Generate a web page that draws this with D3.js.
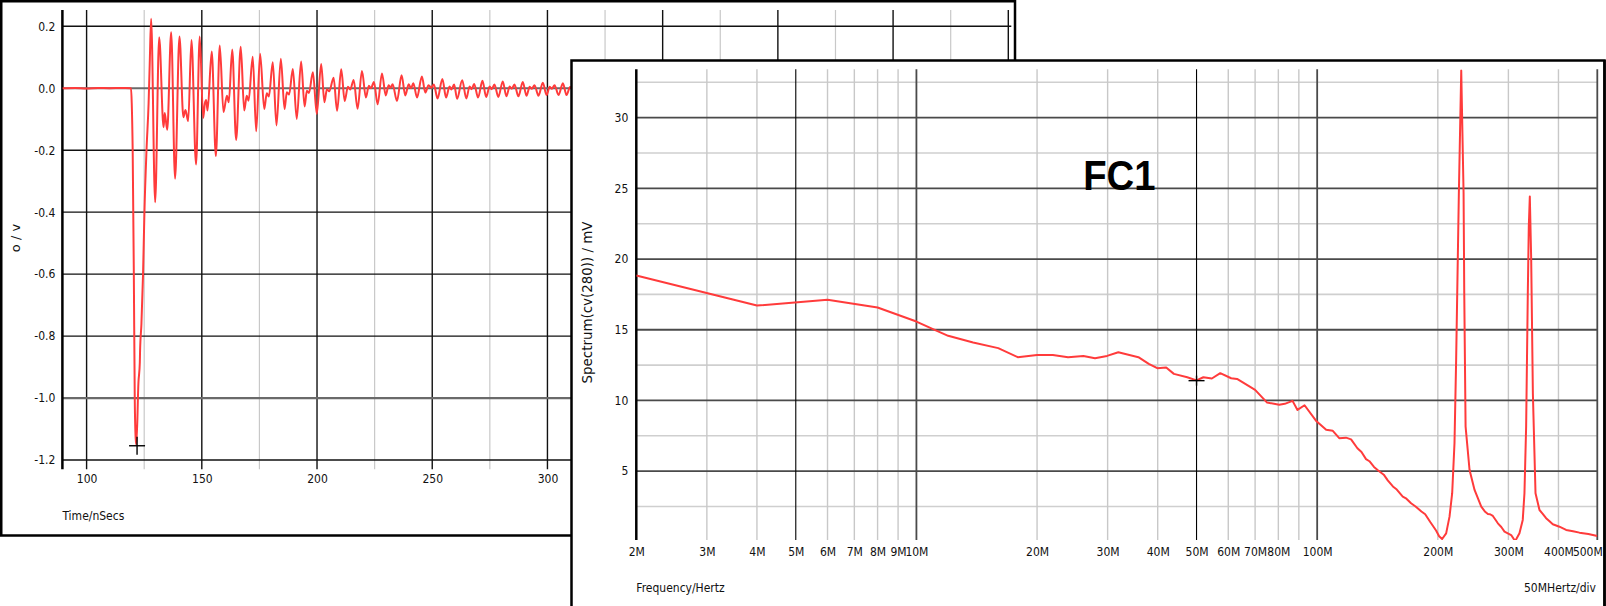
<!DOCTYPE html>
<html><head><meta charset="utf-8">
<script src="https://cdn.jsdelivr.net/npm/d3@7"></script>
<style>
html,body{margin:0;padding:0;background:#fff;}
svg{display:block;}
</style></head><body>
<svg id="chart" width="1606" height="606"></svg>
<script>
// ---------- DATA ----------
// Left panel: transient, time (ns) vs voltage (V)
const waveform = [
 [89.5,0],[95,0.001],[100,-0.001],[105,0.001],[110,0],[115,0.001],[119.0,0],[119.3,0],[119.6,-0.05],[120.0,-0.2],[120.5,-0.6],[120.9,-1.0],[121.3,-1.13],[121.6,-1.15],
 [122.5,-0.95],[123.1,-0.885],[123.2,-0.85],[123.8,-0.76],[124.5,-0.6],[125.1,-0.4],[126.0,-0.2],[126.9,-0.05],[127.4,0.08],[128.0,0.224],
 [129.75,-0.368],[131.5,0.165],[133.4,-0.126],[133.9,-0.08],[135.0,-0.134],[136.7,0.181],[138.4,-0.292],[140.3,0.167],[142.0,-0.094],[142.9,-0.07],[144.1,-0.106],
 [145.5,0.156],[147.5,-0.246],[149.1,0.167],[150.6,-0.096],[151.3,-0.05],[151.9,-0.038],[152.5,-0.072],[154.3,0.119],[156.1,-0.219],[157.8,0.138],[159.4,-0.077],[160.9,-0.024],[161.7,-0.045],
 [163.2,0.125],[164.9,-0.167],[166.9,0.134],[168.4,-0.072],[169.5,-0.024],[170.3,-0.04],[172.1,0.102],[173.6,-0.139],[175.3,0.111],[177.1,-0.067],[178.2,-0.016],[179.1,-0.027],
 [180.8,0.084],[182.4,-0.12],[184.3,0.095],[185.9,-0.067],[186.9,-0.013],[187.9,-0.020],[189.5,0.062],[191.2,-0.099],[193.1,0.086],[194.6,-0.059],[195.6,-0.008],[196.5,-0.015],
 [198.2,0.052],[199.9,-0.083],[201.8,0.078],[203.2,-0.045],[204.3,-0.003],[205.3,-0.010],[207.2,0.034],[208.7,-0.073],[210.5,0.061],[212.0,-0.041],[213.4,0.005],[214.4,-0.004],
 [215.9,0.027],[217.6,-0.066],[219.5,0.056],[221.2,-0.030],[222.5,0.008],[223.4,0.0],[224.7,0.020],[226.3,-0.052],[228.2,0.048],[229.8,-0.023],[231.1,0.010],[232.0,0.002],
 [232.8,0.013],[234.7,-0.041],[236.7,0.042],[238.3,-0.023],[239.8,0.013],[240.8,0.0],[241.8,0.016],[243.4,-0.030],[245.5,0.038],[247.0,-0.014],[248.4,0.010],[249.6,0.002],
 [250.7,0.012],[252.3,-0.033],[254.4,0.030],[256.0,-0.030],[257.5,0.006],[258.3,-0.004],
 [259.5,0.012],[260.8,-0.034],[263.0,0.026],[264.8,-0.033],[266.2,0.006],[267.1,-0.003],
 [268.2,0.014],[269.9,-0.030],[271.8,0.024],[273.4,-0.028],[274.9,0.006],[275.8,-0.003],
 [277.0,0.012],[278.7,-0.028],[280.6,0.022],[282.2,-0.026],[283.6,0.006],[284.5,-0.002],
 [285.7,0.012],[287.4,-0.026],[289.3,0.020],[290.9,-0.024],[292.3,0.005],[293.2,-0.002],
 [294.4,0.010],[296.1,-0.024],[298.0,0.018],[299.6,-0.022],[301.0,0.005],[301.9,-0.002],
 [303.1,0.010],[304.8,-0.022],[306.7,0.016],[308.3,-0.022],[309.8,0.004],[310.7,-0.002],[312.0,0.010],[313.5,-0.015]
];
const timeDomain = [89.5, 500];
const voltDomain = [-1.23, 0.2526];
const timeMajorTicks = [100,150,200,250,300,350,400,450,500];
const timeMinorTicks = [125,175,225,275,325,375,425,475];
const voltTicks = [0.2,0.0,-0.2,-0.4,-0.6,-0.8,-1.0,-1.2];
const voltHeavyTicks = [0.0,-1.0];
const leftCursor = [[121.9,-1.154]];
const leftXLabel = "Time/nSecs";
const leftYLabel = "o / v";

// Right panel: spectrum, frequency (MHz) vs mV
const spectrum = [
 [2,18.84],[4,16.71],[6,17.12],[8,16.57],[10,15.58],[11,15.04],[12,14.57],[13.85,14.1],[16,13.70],[17.9,13.06],[20,13.22],[21.9,13.22],[23.9,13.06],[26.1,13.15],
 [27.9,12.99],[29.9,13.15],[31.9,13.41],[35.8,13.06],[38.0,12.59],[39.9,12.28],[42.0,12.33],[43.9,11.88],[47.4,11.64],[50,11.42],[52.0,11.64],[54.6,11.55],[57.3,11.93],
 [61.0,11.57],[63.1,11.52],[70,10.75],[75,9.85],[80.4,9.69],[83.0,9.76],[86.8,9.97],[89.3,9.33],[93.0,9.66],[99.3,8.57],[105.3,7.92],[109.4,7.85],[113.5,7.33],[118,7.37],
 [121.5,7.25],[126,6.62],[129,6.35],[132.4,5.85],[135,5.70],[138.6,5.30],[142,5.05],[146.6,4.75],[150,4.35],[154.5,3.92],[158,3.70],[163.5,3.20],[167,3.05],[171.5,2.73],[176,2.50],[182,2.15],[186,1.95],[191.5,1.40],[198,0.80],[201.5,0.40],[205,0.20],
 [209.8,0.60],[213.9,1.78],[217.2,3.44],[220.1,6.97],[222.2,12.87],[225.7,24.67],[228.8,33.34],[231.9,24.67],[232.8,17.59],[234.6,8.15],[240.0,5.08],[247,3.67],
 [256.7,2.49],[262,2.15],[266.7,1.97],[270,1.95],[274.4,1.83],[278,1.60],[282.4,1.31],[288,1.05],[293.4,0.72],[304.8,0.48],[311.9,0.05],[319.7,0.60],[325.8,1.55],[329.0,3.44],[332.2,8.15],[335.4,17.59],
 [337.3,22.30],[339.3,24.43],[342.0,19.95],[345.3,10.51],[350.6,3.44],[358.7,2.25],[365,2.00],[372.6,1.67],[380,1.45],[387.2,1.24],[402.2,1.07],[418,0.84],[435,0.75],[451.3,0.65],[475,0.55],[500,0.41]
];
const freqDomain = [2, 500];
const specDomain = [0.13, 33.42];
const freqLabelTicks = [2,3,4,5,6,7,8,9,10,20,30,40,50,60,70,80,100,200,300,400,500];
const freqMinorGrid = [3,4,6,7,8,9,20,30,40,60,70,80,90,200,300,400];
const freqBlackGrid = [5,50];
const freqHeavyGrid = [10,100,500];
const specTicks = [5,10,15,20,25,30];
const specMinorTicks = [2.5,7.5,12.5,17.5,22.5,27.5,32.5];
const rightCursor = [[50,11.40]];
const rightXLabel = "Frequency/Hertz";
const rightXUnit = "50MHertz/div";
const rightYLabel = "Spectrum(cv(280)) / mV";
const titleText = "FC1";

// ---------- DRAW ----------
const TICKFONT = '"DejaVu Sans Condensed","DejaVu Sans",sans-serif';
const LABFONT = '"DejaVu Sans",Verdana,sans-serif';
const RED = "#ff3b3b";
const svg = d3.select("#chart");

function styleAxis(g){
  g.select(".domain").remove();
  g.selectAll(".tick line").remove();
  g.selectAll(".tick text").attr("font-family",TICKFONT).attr("font-stretch","condensed").attr("font-size",12).attr("fill","#111");
}

// ===== Left panel =====
const L = {x0:62.4, x1:1008.3, y0:10, y1:469.3};
const xL = d3.scaleLinear().domain(timeDomain).range([L.x0, L.x1]);
const yL = d3.scaleLinear().domain(voltDomain).range([L.y1, L.y0]);
const gL = svg.append("g");
gL.append("rect").attr("x",1.25).attr("y",1.25).attr("width",1013.75).attr("height",534.25)
  .attr("fill","#fff").attr("stroke","#000").attr("stroke-width",2.5);
gL.selectAll("line.lvmin").data(timeMinorTicks).join("line").attr("class","lvmin")
  .attr("x1",d=>xL(d)).attr("x2",d=>xL(d)).attr("y1",L.y0).attr("y2",L.y1)
  .attr("stroke","#c8c8c8").attr("stroke-width",1.2);
gL.selectAll("line.lvmaj").data(timeMajorTicks).join("line").attr("class","lvmaj")
  .attr("x1",d=>xL(d)).attr("x2",d=>xL(d)).attr("y1",L.y0).attr("y2",L.y1)
  .attr("stroke","#111").attr("stroke-width",1.4);
gL.selectAll("line.lh").data(voltTicks).join("line").attr("class","lh")
  .attr("x1",L.x0).attr("x2",L.x1+3).attr("y1",d=>yL(d)).attr("y2",d=>yL(d))
  .attr("stroke",d=>voltHeavyTicks.includes(d)?"#6a6a6a":"#111")
  .attr("stroke-width",d=>voltHeavyTicks.includes(d)?2.2:1.4);
gL.append("line").attr("x1",L.x0).attr("x2",L.x0).attr("y1",L.y0).attr("y2",L.y1)
  .attr("stroke","#000").attr("stroke-width",2.5);
svg.append("clipPath").attr("id","clipL").append("rect")
  .attr("x",L.x0).attr("y",L.y0).attr("width",L.x1-L.x0).attr("height",L.y1-L.y0);
gL.append("path").datum(waveform).attr("clip-path","url(#clipL)")
  .attr("fill","none").attr("stroke",RED).attr("stroke-width",2).attr("stroke-linejoin","round")
  .attr("d", d3.line().x(d=>xL(d[0])).y(d=>yL(d[1])).curve(d3.curveMonotoneX));
leftCursor.forEach(c=>{
  gL.append("line").attr("x1",xL(c[0])-8).attr("x2",xL(c[0])+8).attr("y1",yL(c[1])).attr("y2",yL(c[1])).attr("stroke","#000").attr("stroke-width",1.4);
  gL.append("line").attr("x1",xL(c[0])).attr("x2",xL(c[0])).attr("y1",yL(c[1])-9).attr("y2",yL(c[1])+9).attr("stroke","#000").attr("stroke-width",1.4);
});
gL.append("g").attr("transform",`translate(${L.x0},0)`)
  .call(d3.axisLeft(yL).tickValues(voltTicks).tickFormat(d=>d.toFixed(1)).tickSize(0).tickPadding(7)).call(styleAxis);
gL.append("g").attr("transform",`translate(0,${L.y1})`)
  .call(d3.axisBottom(xL).tickValues(timeMajorTicks).tickFormat(d=>String(d)).tickSize(0).tickPadding(5.5)).call(styleAxis);
gL.append("text").attr("x",L.x0).attr("y",519.5).text(leftXLabel)
  .attr("font-family",TICKFONT).attr("font-stretch","condensed").attr("font-size",12).attr("fill","#111");
gL.append("text").attr("transform","translate(20,238) rotate(-90)").attr("text-anchor","middle").text(leftYLabel)
  .attr("font-family",LABFONT).attr("font-size",13).attr("fill","#111");

// ===== Right panel =====
const R = {x0:636.3, x1:1597.3, y0:69.3, y1:540};
const xR = d3.scaleLog().domain(freqDomain).range([R.x0, R.x1]);
const yR = d3.scaleLinear().domain(specDomain).range([R.y1, R.y0]);
const gR = svg.append("g");
gR.append("rect").attr("x",571.5).attr("y",60.5).attr("width",1033).attr("height",600)
  .attr("fill","#fff").attr("stroke","#000").attr("stroke-width",2.5);
gR.selectAll("line.rhmin").data(specMinorTicks).join("line").attr("class","rhmin")
  .attr("x1",R.x0).attr("x2",R.x1).attr("y1",d=>yR(d)).attr("y2",d=>yR(d))
  .attr("stroke","#cfcfcf").attr("stroke-width",1.6);
gR.selectAll("line.rvmin").data(freqMinorGrid).join("line").attr("class","rvmin")
  .attr("x1",d=>xR(d)).attr("x2",d=>xR(d)).attr("y1",R.y0).attr("y2",R.y1)
  .attr("stroke","#c8c8c8").attr("stroke-width",1.4);
gR.selectAll("line.rhmaj").data(specTicks).join("line").attr("class","rhmaj")
  .attr("x1",R.x0).attr("x2",R.x1).attr("y1",d=>yR(d)).attr("y2",d=>yR(d))
  .attr("stroke","#4a4a4a").attr("stroke-width",1.8);
gR.selectAll("line.rvblk").data(freqBlackGrid).join("line").attr("class","rvblk")
  .attr("x1",d=>xR(d)).attr("x2",d=>xR(d)).attr("y1",R.y0).attr("y2",R.y1)
  .attr("stroke","#000").attr("stroke-width",1.1);
gR.selectAll("line.rvmaj").data(freqHeavyGrid).join("line").attr("class","rvmaj")
  .attr("x1",d=>xR(d)).attr("x2",d=>xR(d)).attr("y1",R.y0).attr("y2",R.y1)
  .attr("stroke","#4a4a4a").attr("stroke-width",1.8);
gR.append("line").attr("x1",R.x0).attr("x2",R.x0).attr("y1",R.y0).attr("y2",R.y1)
  .attr("stroke","#000").attr("stroke-width",2.5);
svg.append("clipPath").attr("id","clipR").append("rect")
  .attr("x",R.x0).attr("y",R.y0).attr("width",R.x1-R.x0).attr("height",R.y1-R.y0);
gR.append("path").datum(spectrum).attr("clip-path","url(#clipR)")
  .attr("fill","none").attr("stroke",RED).attr("stroke-width",2).attr("stroke-linejoin","round")
  .attr("d", d3.line().x(d=>xR(d[0])).y(d=>yR(d[1])));
rightCursor.forEach(c=>{
  gR.append("line").attr("x1",xR(c[0])-8).attr("x2",xR(c[0])+8).attr("y1",yR(c[1])).attr("y2",yR(c[1])).attr("stroke","#000").attr("stroke-width",1.4);
  gR.append("line").attr("x1",xR(c[0])).attr("x2",xR(c[0])).attr("y1",yR(c[1])-5).attr("y2",yR(c[1])+5).attr("stroke","#000").attr("stroke-width",1.4);
});
gR.append("g").attr("transform",`translate(${R.x0},0)`)
  .call(d3.axisLeft(yR).tickValues(specTicks).tickFormat(d=>String(d)).tickSize(0).tickPadding(8)).call(styleAxis);
const xAxR = gR.append("g").attr("transform",`translate(0,${R.y1})`)
  .call(d3.axisBottom(xR).tickValues(freqLabelTicks).tickFormat(d=>d+"M").tickSize(0).tickPadding(7)).call(styleAxis);
// keep the last label inside the frame
xAxR.selectAll(".tick text").filter(d=>d===freqDomain[1]).attr("text-anchor","end").attr("dx",5);
gR.append("text").attr("x",R.x0).attr("y",592).text(rightXLabel)
  .attr("font-family",TICKFONT).attr("font-stretch","condensed").attr("font-size",12).attr("fill","#111");
gR.append("text").attr("x",1596).attr("y",592).attr("text-anchor","end").text(rightXUnit)
  .attr("font-family",TICKFONT).attr("font-stretch","condensed").attr("font-size",12).attr("fill","#111");
gR.append("text").attr("transform","translate(592,302.5) rotate(-90)").attr("text-anchor","middle").text(rightYLabel)
  .attr("font-family",LABFONT).attr("font-size",13.4).attr("fill","#111");
gR.append("text").attr("transform","translate(1083.2,190) scale(0.89,1)").text(titleText)
  .attr("font-family",'"Liberation Sans",Arial,sans-serif').attr("font-weight","bold").attr("font-size",43).attr("fill","#000");
gR.append("line").attr("x1",1604.5).attr("x2",1604.5).attr("y1",60).attr("y2",606).attr("stroke","#000").attr("stroke-width",2.5);
</script>
</body></html>
